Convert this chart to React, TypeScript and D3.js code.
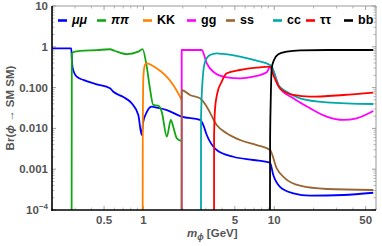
import * as d3 from "d3";

// [mass in GeV, branching ratio]
const muMu: [number, number][] = [
  [0.2, 0.92], [0.281, 0.92], [0.2835, 0.5], [0.288, 0.3], [0.309, 0.185], [0.347, 0.154],
  [0.44, 0.12], [0.555, 0.096], [0.589, 0.079], [0.702, 0.0585], [0.814, 0.0412],
  [0.914, 0.0213], [0.97, 0.0069], [0.993, 0.0136], [1.065, 0.0257], [1.16, 0.034],
  [1.27, 0.0322], [1.51, 0.0282], [1.96, 0.0194], [2.71, 0.0161], [2.87, 0.0121],
  [3.05, 0.0069], [3.63, 0.00296], [4.87, 0.00202], [6.92, 0.00168], [9.29, 0.00144],
  [9.84, 0.00072], [11.07, 0.00037], [14, 0.000257], [18.8, 0.000224], [33.8, 0.000233],
  [57.2, 0.000265],
];
const piPi: [number, number][] = [
  [0.2825, 0.0001], [0.2835, 0.69], [0.3, 0.76], [0.327, 0.79], [0.44, 0.83], [0.555, 0.87],
  [0.6, 0.8], [0.745, 0.66], [0.914, 0.76], [0.985, 0.88], [1.06, 0.325], [1.12, 0.098],
  [1.19, 0.0375], [1.3, 0.036], [1.38, 0.0257], [1.51, 0.0063], [1.62, 0.0161],
  [1.69, 0.011], [1.8, 0.0057], [1.96, 0.0049],
];
const kK: [number, number][] = [
  [0.987, 0.0001], [0.989, 0.01], [1.0, 0.2], [1.03, 0.37], [1.06, 0.394], [1.26, 0.297],
  [1.46, 0.204], [1.69, 0.116], [1.905, 0.0598], [1.96, 0.0497],
];
const gG: [number, number][] = [
  [1.96, 0.0001], [1.962, 0.835], [2.79, 0.835], [3.05, 0.394], [3.42, 0.245], [4.33, 0.179],
  [5.48, 0.169], [6.92, 0.185], [8.76, 0.237], [9.35, 0.33], [11.07, 0.096], [14, 0.0547],
  [18.8, 0.0311], [25.2, 0.0194], [33.8, 0.0161], [42.7, 0.0177], [57.2, 0.0267],
];
const sS: [number, number][] = [
  [1.96, 0.0001], [1.962, 0.0873], [2.27, 0.0659], [2.71, 0.0547], [3.05, 0.034],
  [3.63, 0.0121], [4.33, 0.0076], [5.48, 0.0052], [7.35, 0.0039], [9.29, 0.00296],
  [10.45, 0.00105], [12.1, 0.000598], [15.75, 0.000394], [25.2, 0.000327], [57.2, 0.000309],
];
const cC: [number, number][] = [
  [2.755, 0.0001], [2.757, 0.0177], [2.84, 0.169], [2.96, 0.431], [3.23, 0.63], [3.63, 0.69],
  [4.08, 0.667], [5.48, 0.572], [7.35, 0.456], [9.29, 0.358], [9.57, 0.33], [10.75, 0.116],
  [12.46, 0.079], [15.75, 0.0547], [25.2, 0.0436], [57.2, 0.0396],
];
const tauTau: [number, number][] = [
  [3.468, 0.0001], [3.47, 0.007], [3.53, 0.031], [3.67, 0.0725], [3.97, 0.14], [4.33, 0.224],
  [5.48, 0.27], [7.35, 0.308], [9.29, 0.325], [9.84, 0.204], [11.07, 0.096], [14, 0.0659],
  [18.8, 0.0598], [33.8, 0.0659], [57.2, 0.075],
];
const bB: [number, number][] = [
  [9.28, 0.0001], [9.3, 0.005], [9.4, 0.045], [9.57, 0.297], [9.96, 0.475], [10.75, 0.655],
  [12.46, 0.76], [15.75, 0.82], [30, 0.835], [57.2, 0.835],
];

const seriesNames = ["μμ", "ππ", "KK", "gg", "ss", "cc", "ττ", "bb"];
const seriesColors = ["#0000ff", "#12a612", "#ff8000", "#ff00ff", "#996633", "#00a8a8", "#ff0000", "#000000"];
const seriesData = [muMu, piPi, kK, gG, sS, cC, tauTau, bB];
const italicNames = ["μμ", "ππ"];

const xTickValues = [0.5, 1, 5, 10, 50];
const xTickLabels = ["0.5", "1", "5", "10", "50"];
const yTickValues = [1e-4, 0.001, 0.01, 0.1, 1, 10];
const yTickLabels = ["10", "0.001", "0.010", "0.100", "1", "10"];

const W = 382;
const H = 246;
const left = 52;
const right = 376;
const top = 6;
const bottom = 210;

// legend layout (x of each short line)
const legendX = [58, 97, 143, 187, 226, 273, 306, 344];

export default function App() {
  const x = d3.scaleLog().domain([0.2, 60]).range([left, right]);
  const y = d3.scaleLog().domain([1e-4, 10]).range([bottom, top]);

  const line = d3
    .line<[number, number]>()
    .x((d) => x(d[0]))
    .y((d) => y(d[1]))
    .curve(d3.curveMonotoneX);

  const xMinor: number[] = [];
  [0.1, 1, 10].forEach((dec) => {
    for (let k = 1; k <= 9; k++) {
      const v = dec * k;
      if (v >= 0.2 && v <= 60 && !xTickValues.includes(+v.toFixed(3))) xMinor.push(v);
    }
  });
  const yMinor: number[] = [];
  [1e-4, 1e-3, 1e-2, 1e-1, 1].forEach((dec) => {
    for (let k = 2; k <= 9; k++) yMinor.push(dec * k);
  });

  const tickColor = "#888";
  const labelColor = "#555";
  const font = "'Liberation Sans', Arial, sans-serif";

  return (
    <svg width={W} height={H} style={{ position: "absolute", left: 0, top: 0 }} fontFamily={font}>
      <defs>
        <clipPath id="plot">
          <rect x={left} y={top} width={right - left} height={bottom - top} />
        </clipPath>
      </defs>
      <rect width={W} height={H} fill="#fff" />

      {/* ticks */}
      {xTickValues.map((v) => (
        <g key={"xt" + v} stroke={tickColor} strokeWidth={0.8}>
          <line x1={x(v)} x2={x(v)} y1={bottom} y2={bottom - 4} />
          <line x1={x(v)} x2={x(v)} y1={top} y2={top + 4} />
        </g>
      ))}
      {xMinor.map((v) => (
        <g key={"xm" + v} stroke={tickColor} strokeWidth={0.6}>
          <line x1={x(v)} x2={x(v)} y1={bottom} y2={bottom - 2.5} />
          <line x1={x(v)} x2={x(v)} y1={top} y2={top + 2.5} />
        </g>
      ))}
      {yTickValues.map((v) => (
        <g key={"yt" + v} stroke={tickColor} strokeWidth={0.8}>
          <line x1={left} x2={left + 4} y1={y(v)} y2={y(v)} />
          <line x1={right} x2={right - 4} y1={y(v)} y2={y(v)} />
        </g>
      ))}
      {yMinor.map((v) => (
        <g key={"ym" + v} stroke={tickColor} strokeWidth={0.6}>
          <line x1={left} x2={left + 2.5} y1={y(v)} y2={y(v)} />
          <line x1={right} x2={right - 2.5} y1={y(v)} y2={y(v)} />
        </g>
      ))}

      {/* curves */}
      <g clipPath="url(#plot)" fill="none" strokeWidth={1.8} strokeLinejoin="round">
        {seriesData.map((d, i) => (
          <path key={seriesNames[i]} d={line(d) ?? ""} stroke={seriesColors[i]} />
        ))}
      </g>

      {/* frame */}
      <line x1={left} x2={right} y1={top} y2={top} stroke="#999" strokeWidth={1} />
      <line x1={right} x2={right} y1={top} y2={bottom} stroke="#999" strokeWidth={1} />
      <line x1={left} x2={left} y1={top} y2={bottom + 0.8} stroke="#000" strokeWidth={1.6} />
      <line x1={left - 0.8} x2={right} y1={bottom} y2={bottom} stroke="#000" strokeWidth={1.6} />

      {/* tick labels */}
      {xTickValues.map((v, i) => (
        <text key={"xl" + v} x={x(v)} y={224} textAnchor="middle" fontSize={11.5} fontWeight="bold" fill={labelColor}>
          {xTickLabels[i]}
        </text>
      ))}
      {yTickValues.map((v, i) => (
        <text key={"yl" + v} x={48} y={y(v) + 4} textAnchor="end" fontSize={11.5} fontWeight="bold" fill={labelColor}>
          {yTickLabels[i]}
          {v === 1e-4 && (
            <tspan dy={-5} fontSize={8}>
              −4
            </tspan>
          )}
        </text>
      ))}

      {/* axis titles */}
      <text
        transform="translate(14,108) rotate(-90)"
        textAnchor="middle"
        fontSize={11.5}
        fontWeight="bold"
        fill={labelColor}
      >
        Br(<tspan fontStyle="italic">ϕ</tspan> → SM SM)
      </text>
      <text x={187} y={237} fontSize={11.5} fontWeight="bold" fill={labelColor}>
        <tspan fontStyle="italic">m</tspan>
        <tspan fontStyle="italic" fontSize={8.5} dy={3}>
          ϕ
        </tspan>
        <tspan dy={-3}> [GeV]</tspan>
      </text>

      {/* legend */}
      {seriesNames.map((n, i) => (
        <g key={"lg" + n}>
          <line x1={legendX[i]} x2={legendX[i] + 9} y1={20.5} y2={20.5} stroke={seriesColors[i]} strokeWidth={2.6} />
          <text
            x={legendX[i] + 14}
            y={24}
            fontSize={12.5}
            fontWeight="bold"
            fontStyle={italicNames.includes(n) ? "italic" : "normal"}
            fill="#000"
          >
            {n}
          </text>
        </g>
      ))}
    </svg>
  );
}
